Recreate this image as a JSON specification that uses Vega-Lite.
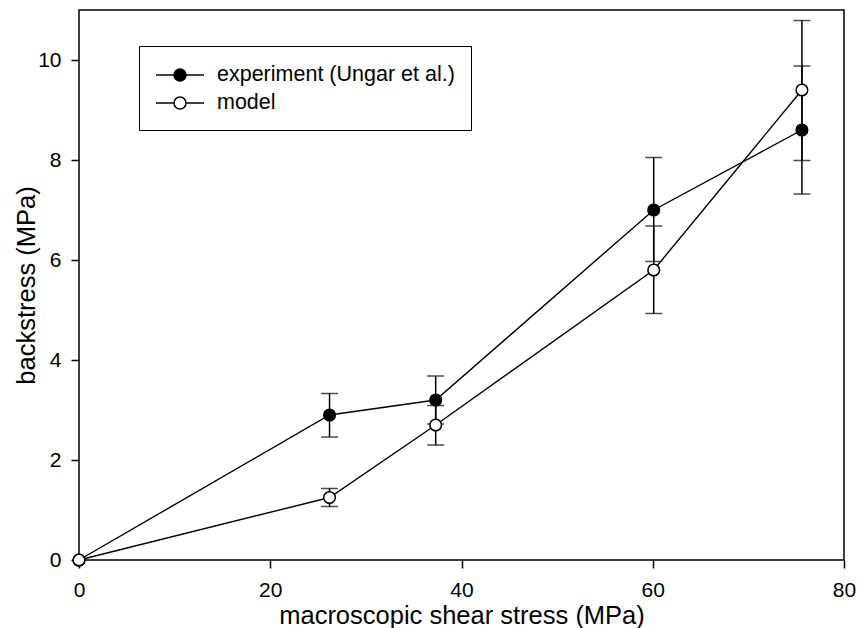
{
  "$schema": "https://vega.github.io/schema/vega-lite/v6.json",
  "width": 765,
  "height": 550,
  "autosize": {"type": "none"},
  "padding": {"left": 79, "top": 10, "right": 14, "bottom": 68},
  "background": "white",
  "config": {
    "font": "Liberation Sans",
    "view": {"stroke": "black", "strokeWidth": 1.5},
    "axis": {
      "domain": false,
      "grid": false,
      "tickColor": "black",
      "tickWidth": 1.5,
      "tickSize": 8,
      "labelFlush": false,
      "labelFont": "Liberation Sans",
      "labelFontSize": 21,
      "labelColor": "black",
      "titleFont": "Liberation Sans",
      "titleFontSize": 25.5,
      "titleFontWeight": "normal",
      "titleColor": "black"
    }
  },
  "data": {
    "values": [
      {"series": "experiment (Ungar et al.)", "x": 0, "y": 0, "lo": null, "hi": null},
      {"series": "experiment (Ungar et al.)", "x": 26.2, "y": 2.9, "lo": 2.46, "hi": 3.33},
      {"series": "experiment (Ungar et al.)", "x": 37.3, "y": 3.2, "lo": 2.72, "hi": 3.68},
      {"series": "experiment (Ungar et al.)", "x": 60.1, "y": 7.0, "lo": 5.97, "hi": 8.05},
      {"series": "experiment (Ungar et al.)", "x": 75.6, "y": 8.6, "lo": 7.32, "hi": 9.88},
      {"series": "model", "x": 0, "y": 0, "lo": null, "hi": null},
      {"series": "model", "x": 26.2, "y": 1.25, "lo": 1.07, "hi": 1.43},
      {"series": "model", "x": 37.3, "y": 2.7, "lo": 2.3, "hi": 3.09},
      {"series": "model", "x": 60.1, "y": 5.8, "lo": 4.93, "hi": 6.68},
      {"series": "model", "x": 75.6, "y": 9.4, "lo": 7.99, "hi": 10.79}
    ]
  },
  "encoding": {
    "x": {
      "field": "x",
      "type": "quantitative",
      "scale": {"domain": [0, 80], "nice": false, "zero": false},
      "axis": {"values": [0, 20, 40, 60, 80], "title": "macroscopic shear stress (MPa)", "labelPadding": 11, "titleBaseline": "alphabetic", "titleY": 63}
    }
  },
  "layer": [
    {
      "mark": {"type": "line", "color": "black", "strokeWidth": 1.4},
      "encoding": {
        "y": {
          "field": "y",
          "type": "quantitative",
          "scale": {"domain": [0, 11], "nice": false},
          "axis": {"values": [0, 2, 4, 6, 8, 10], "title": "backstress (MPa)", "labelPadding": 10, "titleBaseline": "alphabetic", "titleX": -45}
        },
        "detail": {"field": "series", "type": "nominal"}
      }
    },
    {
      "transform": [{"filter": "isValid(datum.lo)"}],
      "mark": {"type": "rule", "color": "black", "strokeWidth": 1.5},
      "encoding": {
        "y": {"field": "lo", "type": "quantitative"},
        "y2": {"field": "hi"}
      }
    },
    {
      "transform": [{"filter": "isValid(datum.lo)"}],
      "mark": {"type": "tick", "orient": "horizontal", "color": "black", "size": 17, "thickness": 1.5},
      "encoding": {"y": {"field": "lo", "type": "quantitative"}}
    },
    {
      "transform": [{"filter": "isValid(datum.hi)"}],
      "mark": {"type": "tick", "orient": "horizontal", "color": "black", "size": 17, "thickness": 1.5},
      "encoding": {"y": {"field": "hi", "type": "quantitative"}}
    },
    {
      "mark": {"type": "circle", "size": 135, "stroke": "black", "strokeWidth": 1.5, "opacity": 1},
      "encoding": {
        "y": {"field": "y", "type": "quantitative"},
        "fill": {
          "field": "series",
          "type": "nominal",
          "scale": {"domain": ["experiment (Ungar et al.)", "model"], "range": ["black", "white"]},
          "legend": {
            "title": null,
            "orient": "none",
            "legendX": 60,
            "legendY": 36,
            "padding": 16,
            "strokeColor": "black",
            "fillColor": "white",
            "symbolType": "M-1,0L0.5,0M1.5,0L3,0M1.5,0A0.5,0.5,0,1,1,0.5,0A0.5,0.5,0,1,1,1.5,0Z",
            "symbolSize": 576,
            "symbolStrokeColor": "black",
            "symbolStrokeWidth": 1.5,
            "labelFont": "Liberation Sans",
            "labelFontSize": 21.5,
            "labelColor": "black",
            "labelOffset": 36,
            "rowPadding": 4,
            "labelLimit": 400,
            "encode": {
              "symbols": {"update": {"stroke": {"value": "black"}, "strokeWidth": {"value": 1.5}, "opacity": {"value": 1}}}
            }
          }
        }
      }
    }
  ]
}
